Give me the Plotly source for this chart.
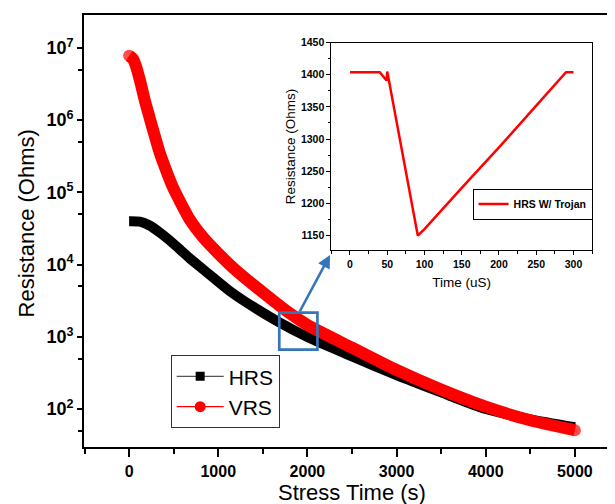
import plotly.graph_objects as go

# ---------------- data ----------------
stress_time_hrs = [0, 120, 230, 340, 450, 570, 680, 790, 940, 1120, 1310, 1680, 2000,
                   2500, 3000, 3500, 4000, 4500, 5000]
hrs_ohms = [40000, 39500, 34800, 28100, 21900, 16200, 12200, 9450, 6650, 4400, 3030, 1600, 995,
            537, 295, 170, 100, 72, 56]

stress_time_vrs = [0, 41, 83, 131, 175, 231, 287, 343, 410, 488, 578, 686, 835, 995,
                   1181, 1424, 1796, 2000, 2500, 3000, 3500, 4000, 4500, 5000]
vrs_ohms = [7.8e6, 7.1e6, 5.3e6, 3.2e6, 1.9e6, 1.07e6, 6.1e5, 3.55e5, 2.1e5, 1.2e5, 7.2e4,
            4.1e4, 2.34e4, 1.45e4, 8.7e3, 4.9e3, 2.14e3, 1.46e3, 708, 347, 186, 108, 70, 51]

inset_time_us = [0, 40, 49, 50, 91, 100, 150, 200, 250, 290, 300]
inset_ohms = [1404, 1404, 1391, 1405, 1150, 1160, 1224, 1287, 1352, 1404, 1404]

main_x_ticks = [0, 1000, 2000, 3000, 4000, 5000]
main_x_minor = [-500, 500, 1500, 2500, 3500, 4500, 5500]
main_y_tickvals = [1e2, 1e3, 1e4, 1e5, 1e6, 1e7]
main_y_ticktext = ["10<sup>2</sup>", "10<sup>3</sup>", "10<sup>4</sup>",
                   "10<sup>5</sup>", "10<sup>6</sup>", "10<sup>7</sup>"]
main_y_minor = [5e1, 5e2, 5e3, 5e4, 5e5, 5e6]

inset_x_ticks = [0, 50, 100, 150, 200, 250, 300]
inset_x_minor = [-25, 25, 75, 125, 175, 225, 275, 325]
inset_y_ticks = [1150, 1200, 1250, 1300, 1350, 1400, 1450]
inset_y_minor = [1175, 1225, 1275, 1325, 1375, 1425]

FONT = "Liberation Sans, Arial, sans-serif"
RED = "#ff0000"
BLUE = "#3576BA"

# page body adds an 8px offset; plot area placed so that it lands where the reference's is
L, R, T, B = 76, 1, 6, 65
PW, PH = 615 - L - R, 504 - T - B   # 538 x 433


def px(xs):   # screen x -> paper
    return (xs - 8 - L) / PW


def py(ys):   # screen y -> paper
    return (504 - B + 8 - ys) / PH


fig = go.Figure()

# main curves (thick bands)
fig.add_trace(go.Scatter(
    x=stress_time_hrs, y=hrs_ohms, mode="lines",
    line=dict(color="black", width=10, shape="spline", smoothing=0.6),
    showlegend=False, hoverinfo="skip"))
n_v = len(stress_time_vrs)
fig.add_trace(go.Scatter(
    x=stress_time_vrs, y=vrs_ohms, mode="lines+markers",
    line=dict(color=RED, width=12, shape="spline", smoothing=0.6),
    marker=dict(size=[12] + [0] * (n_v - 2) + [12], color=RED, line=dict(width=0)),
    showlegend=False, hoverinfo="skip"))

# legend entries
fig.add_trace(go.Scatter(
    x=[None], y=[None], mode="lines+markers", name="HRS",
    line=dict(color="#555555", width=1.3),
    marker=dict(symbol="square", size=9, color="black"), legend="legend"))
fig.add_trace(go.Scatter(
    x=[None], y=[None], mode="lines+markers", name="VRS",
    line=dict(color=RED, width=1.3),
    marker=dict(symbol="circle", size=11, color=RED), legend="legend"))

# inset
fig.add_trace(go.Scatter(
    x=inset_time_us, y=inset_ohms, mode="lines", name="HRS W/ Trojan",
    line=dict(color=RED, width=2.5), xaxis="x3", yaxis="y3", legend="legend2"))

tick_font_main_x = dict(family=FONT, size=16, color="black", weight="bold")
tick_font_main_y = dict(family=FONT, size=18, color="black", weight="bold")
tick_font_inset = dict(family=FONT, size=10.5, color="black", weight="bold")

XR = [-506, 5506]
YR = [1.475, 7.456]

fig.update_layout(
    width=615, height=504,
    margin=dict(l=L, r=R, t=T, b=B, pad=0),
    paper_bgcolor="white", plot_bgcolor="white",
    font=dict(family=FONT, color="black"),
    xaxis=dict(
        range=XR, tickvals=main_x_ticks, ticks="outside", ticklen=8,
        tickwidth=1.5, tickcolor="black", showline=True, linewidth=1.6,
        linecolor="black", mirror=True, showgrid=False, zeroline=False,
        minor=dict(tickvals=main_x_minor, ticks="outside", ticklen=5,
                   tickwidth=1.5, tickcolor="black"),
        tickfont=tick_font_main_x, ticklabelstandoff=1,
    ),
    yaxis=dict(
        type="log", range=YR, tickvals=main_y_tickvals,
        ticktext=main_y_ticktext, ticks="outside", ticklen=5, tickwidth=1.5,
        tickcolor="black", showline=True, linewidth=1.6, linecolor="black",
        mirror=True, showgrid=False, zeroline=False,
        minor=dict(tickvals=main_y_minor, ticks="outside", ticklen=4,
                   tickwidth=1.5, tickcolor="black"),
        tickfont=tick_font_main_y,
    ),
    xaxis2=dict(
        overlaying="x", side="top", anchor="y", range=XR,
        tickvals=main_x_ticks, ticks="inside", ticklen=9, tickwidth=1.5,
        tickcolor="black", showticklabels=False, showline=False,
        showgrid=False, zeroline=False,
        minor=dict(tickvals=main_x_minor, ticks="inside", ticklen=6,
                   tickwidth=1.5, tickcolor="black"),
    ),
    yaxis2=dict(
        overlaying="y", side="right", anchor="x", type="log", range=YR,
        tickvals=main_y_tickvals, ticks="inside", ticklen=9, tickwidth=1.5,
        tickcolor="black", showticklabels=False, showline=False,
        showgrid=False, zeroline=False,
        minor=dict(tickvals=main_y_minor, ticks="inside", ticklen=6,
                   tickwidth=1.5, tickcolor="black"),
    ),
    xaxis3=dict(
        domain=[px(332.3), px(594)], anchor="y3", range=[-25, 325],
        tickvals=inset_x_ticks, ticks="outside", ticklen=4, tickwidth=1,
        tickcolor="black", showline=True, linewidth=1, linecolor="black",
        mirror=True, showgrid=False, zeroline=False,
        minor=dict(tickvals=inset_x_minor, ticks="outside", ticklen=2.5,
                   tickwidth=1, tickcolor="black"),
        tickfont=tick_font_inset,
        title=dict(text="Time (uS)", font=dict(family=FONT, size=13.5, color="black"),
                   standoff=8),
    ),
    yaxis3=dict(
        domain=[py(250), py(41.7)], anchor="x3", range=[1126.7, 1450],
        tickvals=inset_y_ticks, ticks="outside", ticklen=4, tickwidth=1,
        tickcolor="black", showline=True, linewidth=1, linecolor="black",
        mirror=True, showgrid=False, zeroline=False,
        minor=dict(tickvals=inset_y_minor, ticks="outside", ticklen=2.5,
                   tickwidth=1, tickcolor="black"),
        tickfont=tick_font_inset,
        title=dict(text="Resistance (Ohms)", font=dict(family=FONT, size=13.5, color="black"),
                   standoff=2),
    ),
    xaxis4=dict(
        overlaying="x3", side="top", anchor="y3", range=[-25, 325],
        tickvals=inset_x_ticks, ticks="inside", ticklen=4, tickwidth=1,
        tickcolor="black", showticklabels=False, showline=False,
        showgrid=False, zeroline=False,
        minor=dict(tickvals=inset_x_minor, ticks="inside", ticklen=2.5,
                   tickwidth=1, tickcolor="black"),
    ),
    yaxis4=dict(
        overlaying="y3", side="right", anchor="x3", range=[1126.7, 1450],
        tickvals=inset_y_ticks, ticks="inside", ticklen=4, tickwidth=1,
        tickcolor="black", showticklabels=False, showline=False,
        showgrid=False, zeroline=False,
        minor=dict(tickvals=inset_y_minor, ticks="inside", ticklen=2.5,
                   tickwidth=1, tickcolor="black"),
    ),
    legend=dict(
        x=px(171), y=py(355), xanchor="left", yanchor="top",
        bgcolor="white", bordercolor="#333333", borderwidth=1,
        font=dict(family=FONT, size=21, color="black"),
        itemwidth=47, tracegroupgap=0,
    ),
    legend2=dict(
        x=px(474), y=py(188), xanchor="left", yanchor="top",
        bgcolor="white", bordercolor="black", borderwidth=1,
        font=dict(family=FONT, size=10.5, color="black", weight="bold"),
        itemwidth=30, tracegroupgap=0,
    ),
    shapes=[
        dict(type="rect", xref="paper", yref="paper",
             x0=px(280), x1=px(318.3), y0=py(349.3), y1=py(312.3),
             line=dict(color=BLUE, width=2.7), fillcolor="rgba(0,0,0,0)", layer="above"),
    ],
    annotations=[
        dict(xref="paper", yref="paper", x=px(331), y=py(254.5),
             ax=-31, ay=57.8, axref="pixel", ayref="pixel", text="",
             showarrow=True, arrowhead=2, arrowsize=1, arrowwidth=2.6,
             arrowcolor=BLUE, standoff=0, startstandoff=0),
        dict(xref="paper", yref="paper", x=px(353.3), y=py(492.3),
             xanchor="center", yanchor="middle", showarrow=False, borderpad=0,
             text="Stress Time (s)", font=dict(family=FONT, size=22, color="black")),
        dict(xref="paper", yref="paper", x=px(26.7), y=py(223),
             xanchor="center", yanchor="middle", showarrow=False, textangle=-90,
             text="Resistance (Ohms)", font=dict(family=FONT, size=22, color="black")),
    ],
    showlegend=True,
)

fig.write_html("out.html")
